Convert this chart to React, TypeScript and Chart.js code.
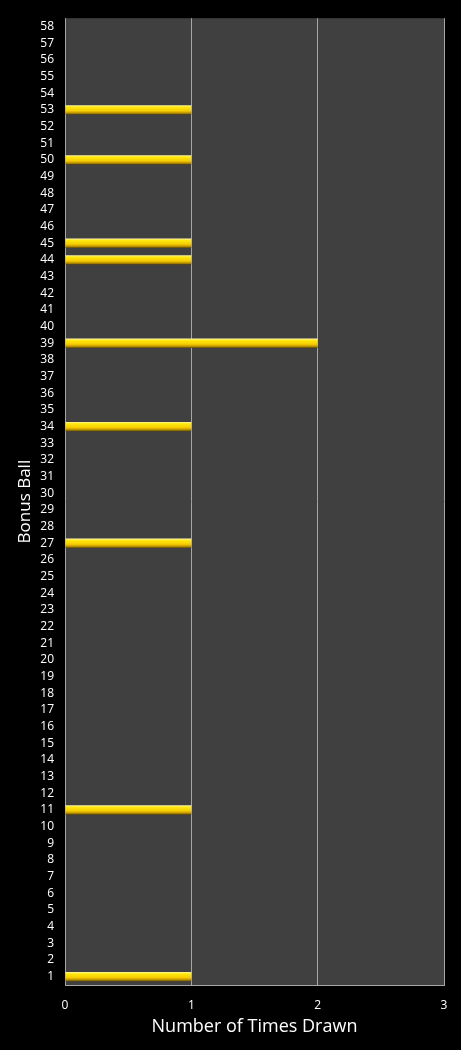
import { useEffect, useRef } from "react";
import { Chart, registerables } from "chart.js";

Chart.register(...registerables);

// Bonus ball numbers 1..58 (bottom to top) and times drawn
const balls = Array.from({ length: 58 }, (_, i) => String(i + 1));
const drawnBalls = [1, 11, 27, 34, 39, 44, 45, 50, 53];
const drawnCounts = [1, 1, 1, 1, 2, 1, 1, 1, 1];
const xTicks = [0, 1, 2, 3];

const counts = balls.map((b) => {
  const idx = drawnBalls.indexOf(Number(b));
  return idx >= 0 ? drawnCounts[idx] : 0;
});

const FONT = "'Open Sans', 'DejaVu Sans', sans-serif";
const BAR_PCT = 0.56;

// dark plot background behind the bars
const plotBg = {
  id: "plotBg",
  beforeDraw(chart: Chart) {
    const { ctx, chartArea } = chart;
    ctx.save();
    ctx.fillStyle = "#404040";
    ctx.fillRect(chartArea.left, chartArea.top, chartArea.right - chartArea.left, chartArea.bottom - chartArea.top);
    ctx.restore();
  },
};

// vertical gold gradient inside each bar, placed with the y scale
function barGradient(c: any) {
  const chart = c.chart;
  const yScale = chart.scales.y;
  if (!yScale || !chart.chartArea) return "#ffd700";
  const step = (chart.chartArea.bottom - chart.chartArea.top) / balls.length;
  const h = step * BAR_PCT;
  const mid = yScale.getPixelForValue(c.dataIndex);
  const top = mid - h / 2;
  const g = chart.ctx.createLinearGradient(0, top, 0, top + h);
  g.addColorStop(0, "#fff6b0");
  g.addColorStop(0.18, "#ffea10");
  g.addColorStop(0.6, "#f7cc00");
  g.addColorStop(0.85, "#b88f00");
  g.addColorStop(1, "#5a4500");
  return g;
}

export default function App() {
  const canvasRef = useRef<HTMLCanvasElement>(null);
  const chartRef = useRef<Chart | null>(null);

  useEffect(() => {
    document.body.style.margin = "0";
    document.body.style.background = "#000";
    if (!canvasRef.current) return;
    const ctx = canvasRef.current.getContext("2d");
    if (!ctx) return;

    if (chartRef.current) chartRef.current.destroy();

    chartRef.current = new Chart(ctx, {
      type: "bar",
      data: {
        labels: balls,
        datasets: [
          {
            data: counts,
            backgroundColor: barGradient,
            borderWidth: 0,
            barPercentage: BAR_PCT,
            categoryPercentage: 1,
          },
        ],
      },
      options: {
        indexAxis: "y",
        animation: false,
        responsive: false,
        layout: { padding: { top: 17, right: 17, left: 0, bottom: 0 } },
        plugins: {
          legend: { display: false },
          tooltip: { enabled: false },
        },
        scales: {
          x: {
            min: 0,
            max: 3,
            afterBuildTicks: (scale: any) => {
              scale.ticks = xTicks.map((v) => ({ value: v }));
            },
            afterFit: (scale: any) => {
              scale.height = 65;
            },
            grid: { color: "#a6a6a6", lineWidth: 1, drawTicks: false },
            border: { display: true, color: "#a6a6a6" },
            ticks: {
              color: "#ffffff",
              padding: 13,
              font: { family: FONT, size: 12 },
            },
            title: {
              display: true,
              text: "Number of Times Drawn",
              color: "#ffffff",
              font: { family: FONT, size: 18, weight: "normal" },
              padding: { top: 0, bottom: 12 },
            },
          },
          y: {
            reverse: true,
            afterFit: (scale: any) => {
              scale.width = 65;
            },
            grid: { display: false, drawTicks: false },
            border: { display: false },
            ticks: {
              color: "#ffffff",
              padding: 11,
              autoSkip: false,
              font: { family: FONT, size: 12 },
            },
            title: {
              display: true,
              text: "Bonus Ball",
              color: "#ffffff",
              font: { family: FONT, size: 17, weight: "normal" },
              padding: { top: 15, bottom: 0 },
            },
          },
        },
      },
      plugins: [plotBg],
    });

    return () => {
      if (chartRef.current) {
        chartRef.current.destroy();
        chartRef.current = null;
      }
    };
  }, []);

  return (
    <div style={{ width: 461, height: 1050, background: "#000" }}>
      <canvas ref={canvasRef} width={461} height={1050} style={{ display: "block" }}></canvas>
    </div>
  );
}
